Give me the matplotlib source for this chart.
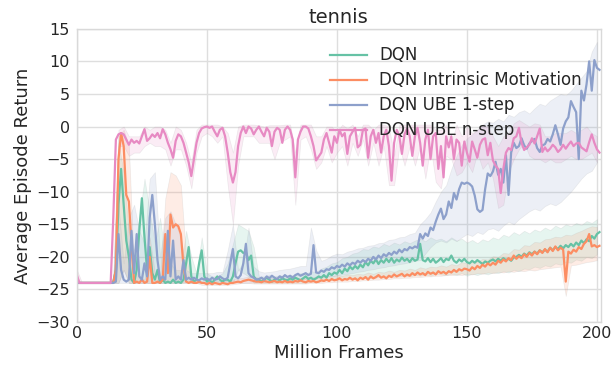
import numpy as np
import matplotlib
matplotlib.use("Agg")
import matplotlib.pyplot as plt

# ---------------- data ----------------
frames = np.arange(0, 202)          # million frames, one value per 1M
band_frames = np.arange(0, 201, 2)  # band sampled every 2M

labels = ["DQN", "DQN Intrinsic Motivation", "DQN UBE 1-step", "DQN UBE n-step"]
colors = ["#66c2a5", "#fc8d62", "#8da0cb", "#e78ac3"]

dqn = [
    -24, -24, -24, -24, -24, -24, -24, -24, -24, -24,
    -24, -24, -24, -24, -23.8, -22, -12, -6.5, -12, -17.5,
    -20, -23.5, -24, -22, -16, -11, -17, -22, -18.5, -22.5,
    -23.5, -22, -24, -23.5, -24, -23.8, -24, -23.5, -24, -23.8,
    -24, -23.5, -21, -18.5, -23, -23.8, -23.5, -21, -19, -23,
    -23.8, -23.5, -24, -23.5, -23, -23.5, -23.8, -23.5, -23.5, -23.8,
    -23, -21, -19.2, -19, -19.4, -19.3, -20.5, -19.8, -23, -23.5,
    -23.5, -23.8, -23.5, -23.2, -23.5, -23.8, -23.5, -23.4, -23.6, -23.3,
    -23.5, -23.6, -23.3, -23.5, -23.2, -23.4, -23.6, -23.3, -23, -23.4,
    -23.2, -23.5, -23.3, -23, -23.2, -22.8, -23.2, -22.5, -22.8, -22.4,
    -22.6, -22.0, -22.5, -21.8, -22.2, -21.5, -21.9, -21.4, -21.8, -21.2,
    -21.6, -20.8, -21.3, -20.6, -21.0, -20.4, -21.1, -20.5, -20.9, -20.3,
    -20.8, -20.2, -20.9, -20.4, -20.7, -20.1, -20.6, -20.3, -20.8, -20.2,
    -20.6, -20.4, -18.0, -20.5, -20.7, -20.2, -20.8, -20.3, -20.9, -20.6,
    -20.2, -20.8, -20.3, -20.5, -19.8, -20.6, -20.9, -20.4, -20.7, -20.3,
    -20.8, -21.0, -20.6, -20.9, -20.5, -20.8, -21.1, -20.7, -20.9, -20.6,
    -20.4, -20.7, -20.3, -20.6, -20.2, -20.5, -20.3, -20.6, -20.1, -20.0,
    -19.7, -20.0, -19.5, -19.8, -19.3, -19.6, -19.2, -19.5, -19.0, -19.3,
    -18.9, -19.2, -18.6, -19.0, -18.5, -18.8, -18.3, -18.7, -18.2, -18.5,
    -18.0, -18.4, -17.8, -18.2, -17.5, -17.9, -17.3, -17.6, -16.8, -17.2,
    -16.5, -16.2,
]

dqn_im = [
    -24, -24, -24, -24, -24, -24, -24, -24, -24, -24,
    -24, -24, -24, -24, -24, -22, -5, -1, -3, -10.5,
    -11.5, -18, -24, -23.8, -24, -23.5, -24, -23.8, -20, -24,
    -24, -23.8, -24, -23.5, -16.5, -22.5, -13.5, -15.5, -15, -15.3,
    -16.5, -21.5, -23.8, -24, -23.8, -24, -24, -23.8, -24, -24,
    -24.2, -24, -24.2, -24, -24.1, -24.2, -24, -24.1, -24.2, -24,
    -24, -23.9, -23.8, -23.9, -23.7, -23.6, -23.5, -23.6, -23.7, -23.8,
    -23.8, -23.9, -23.7, -23.8, -23.9, -23.8, -23.7, -23.9, -23.8, -23.9,
    -23.7, -23.9, -23.8, -23.9, -23.7, -23.8, -23.6, -23.8, -23.9, -23.7,
    -23.8, -23.7, -23.9, -23.8, -23.6, -23.7, -23.5, -23.7, -23.4, -23.6,
    -23.5, -23.3, -23.6, -23.4, -23.5, -23.2, -23.5, -23.3, -23.6, -23.2,
    -23.4, -23.1, -23.5, -23.0, -23.3, -23.1, -22.8, -23.2, -23.0, -23.3,
    -22.9, -23.1, -22.7, -23.0, -22.8, -22.6, -23.0, -22.7, -22.9, -22.5,
    -22.8, -22.4, -22.7, -22.5, -22.8, -22.3, -22.6, -22.4, -22.7, -22.2,
    -22.5, -22.3, -22.6, -22.2, -22.4, -22.0, -22.3, -21.9, -22.1, -21.8,
    -21.9, -22.1, -21.6, -21.9, -21.4, -21.7, -21.2, -21.5, -21.0, -21.3,
    -20.9, -21.2, -20.6, -20.9, -20.4, -20.7, -20.2, -20.5, -19.8, -20.3,
    -19.9, -20.2, -19.6, -20.0, -19.4, -19.8, -19.2, -19.6, -19.0, -19.4,
    -18.8, -19.3, -18.6, -19.1, -18.4, -19.0, -18.6, -18.9, -23.8, -19.2,
    -19.5, -18.9, -19.2, -18.5, -18.8, -18.0, -17.6, -16.5, -18.4, -18.2,
    -18.5, -18.3,
]

ube_1step = [
    -24, -24, -24, -24, -24, -24, -24, -24, -24, -24,
    -24, -24, -24, -24, -24, -23.8, -16.5, -22, -23.5, -23.8,
    -23.5, -16, -22.5, -16.5, -23, -23.5, -21, -23, -14, -10.5,
    -15, -20.5, -23.5, -23, -23.5, -16, -23, -17.5, -23.5, -23,
    -23.5, -20.5, -23.5, -23.2, -23.5, -23.2, -23.5, -23.6, -23.3, -23.5,
    -23.3, -23.6, -23.2, -23.5, -23.4, -23, -23.3, -23.5, -23.2, -21,
    -18.8, -23, -23.3, -22.8, -21, -18, -22.5, -23, -23.2, -23.5,
    -23.4, -23.2, -23.5, -23, -23.3, -22.9, -23.2, -23.4, -23, -23.2,
    -22.8, -23.1, -22.9, -23.2, -22.8, -22.6, -22.9, -22.7, -22.5, -22.8,
    -22.6, -18.2, -22.4, -22.5, -22.1, -22.3, -21.9, -22.0, -21.6, -21.8,
    -21.4, -21.6, -21.2, -21.5, -21.0, -21.3, -20.9, -21.1, -20.6, -20.9,
    -20.5, -20.8, -20.3, -20.6, -20.0, -20.4, -19.8, -20.2, -19.6, -19.9,
    -19.4, -19.7, -19.2, -19.5, -18.9, -19.3, -18.8, -19.0, -18.5, -18.7,
    -18.4, -18.6, -16.5, -17.2, -16.4, -16.8, -15.5, -15.9, -14.6, -13.5,
    -12.6, -14.2, -13.5, -11.5, -12.5, -10.2, -11.2, -9.6, -8.6, -8.8,
    -8.6, -8.8, -9.2, -10.6, -12.7, -13.1, -12.8, -9.6, -7.2, -7.6,
    -6.9, -5.4, -7.4, -6.5, -8.6, -4.4, -10.5, -4.0, -2.5, -3.3,
    -3.0, -1.8, -2.9, -3.4, -2.6, -2.2, -1.9, -3.3, -3.9, -2.9,
    -2.7, -1.9, -2.3, -1.2, 0.2, -1.2, -2.8, -0.3, 0.8, 1.4,
    3.9, 3.0, 2.2, -5.0, 5.5, 4.0, 6.5, 10.0, 5.5, 10.2,
    9.0, 8.7,
]

ube_nstep = [
    -22.8, -24, -24, -24, -24, -24, -24, -24, -24, -24,
    -24, -24, -24, -24, -14, -2, -1.2, -1, -1.2, -2,
    -2.8, -2, -2.5, -2.2, -2.6, -1.5, -0.4, -2.2, -1.8, -1.2,
    -1.6, -1.0, -1.8, -0.4, -1.2, -2.5, -3.5, -4.8, -2.2, -1.2,
    -1.5, -2.5, -4.0, -5.5, -7.6, -5.0, -2.5, -1.0, -0.3, -0.1,
    0, -0.2, 0, -0.8, -1.5, -0.5, -0.2, -1.5, -4, -7,
    -8.6, -7, -3, -1, 0, -1, 0, -0.3, -1.2, -0.5,
    0, -0.8, -1.5, -0.2, -0.8, -3, -0.8, -0.2, -0.5, -2.5,
    -0.5, 0, -0.5, -2, -7.8, -2, -0.8, 0, 0, -0.3,
    -1.5, -3, -5.2, -4.6, -4, -2, -1, -2.5, -4, -1.5,
    -2.5, -0.5, -1.5, -1, -4.2, -1.5, -0.8, -0.2, -3.2, -2.8,
    -0.5, -0.3, -4.8, -1.5, -0.5, -2.5, -1, -4, -1.5, -0.5,
    -3, -8.3, -2.5, -0.5, -1.5, -4.2, -1.2, -0.3, -1.5, -4.5,
    -1.5, -0.2, -2.5, -6, -2, -0.5, -5, -1.5, -1, -6.5,
    -3, -7.8, -1.5, -3.2, -1.5, -5, -2, -2.5, -6, -2.3,
    -4, -5.4, -2.3, -3.5, -4.8, -2.8, -2, -1.8, -4.4, -2.5,
    -5.2, -6, -6.5, -10.2, -6.5, -4, -3.3, -3.6, -1.8, -1.5,
    -0.2, -2.5, -3.6, -3.2, -2.8, -1.8, -2.6, -1.5, -0.3, -3.9,
    -3.2, -3.8, -3.4, -2.8, -3.2, -3.9, -3.5, -2.8, -3.4, -2.8,
    -2.3, -3, -2.6, -2.5, -3.2, -3.5, -3.8, -2.4, -1.2, -2.5,
    -3.5, -4,
]

# confidence bands (lower / upper), every 2M frames
dqn_lo = [
    -24, -24, -24, -24, -24, -24, -24, -24, -24, -22,
    -24, -24, -24, -24, -24, -24, -24, -24, -24, -24,
    -24, -23.8, -24, -24, -24, -24, -24, -24, -24, -24,
    -24, -22, -22.5, -23, -24, -24, -24, -24, -24, -24,
    -24, -24, -24, -24, -24, -23.8, -23.8, -23.8, -23.6, -23.6,
    -23.5, -23.5, -23.4, -23.4, -23.3, -23.3, -23.2, -23.3, -23.1, -23.2,
    -23.0, -23.1, -23.0, -22.9, -23.0, -22.8, -22.9, -22.7, -22.9, -22.6,
    -22.7, -22.8, -22.6, -22.8, -22.5, -22.9, -22.6, -22.8, -22.5, -22.7,
    -22.4, -22.5, -22.2, -22.4, -22.0, -22.2, -21.8, -21.9, -21.5, -21.7,
    -21.3, -21.5, -21.0, -21.2, -20.8, -20.9, -20.4, -20.6, -20.0, -20.2,
    -19.6,
]
dqn_hi = [
    -24, -24, -24, -24, -24, -24, -24, -23.5, -2.5, -7,
    -16, -19, -14, -8, -13, -18, -14, -20, -21, -22,
    -22, -16, -20, -22.5, -17, -22.5, -23, -23, -22.5, -21,
    -18, -15, -15.5, -16, -18.5, -23, -23, -22.8, -23, -22.8,
    -23, -22.8, -22.8, -22.5, -22.6, -22.2, -22.3, -21.8, -21.5, -21.0,
    -20.8, -20.2, -20.0, -19.5, -19.3, -18.8, -18.9, -18.4, -18.6, -18.0,
    -18.3, -17.8, -18.1, -17.6, -17.9, -17.5, -17.2, -17.6, -17.0, -17.4,
    -17.2, -17.6, -17.0, -17.5, -17.2, -17.8, -17.4, -17.9, -17.3, -17.6,
    -17.0, -17.3, -16.6, -16.9, -16.2, -16.6, -16.0, -16.4, -15.8, -16.1,
    -15.5, -15.9, -15.2, -15.6, -15.0, -15.3, -14.8, -15.1, -14.5, -14.8,
    -14.2,
]
dqn_im_lo = [
    -24, -24, -24, -24, -24, -24, -24, -24, -24, -22,
    -24, -24, -24, -24, -24, -24, -24, -24, -24, -24,
    -24, -24, -24, -24, -24.3, -24.3, -24.3, -24.3, -24.3, -24.3,
    -24.2, -24.1, -24, -24, -24.1, -24.1, -24.1, -24.1, -24.1, -24.1,
    -24.1, -24.1, -24.1, -24.1, -24.1, -24, -24, -24, -23.9, -23.9,
    -23.8, -23.8, -23.8, -23.7, -23.7, -23.6, -23.6, -23.5, -23.5, -23.4,
    -23.4, -23.3, -23.3, -23.2, -23.2, -23.1, -23.1, -23.0, -23.0, -22.9,
    -22.9, -22.8, -22.8, -22.7, -22.8, -22.6, -22.7, -22.5, -22.6, -22.4,
    -22.5, -22.3, -22.4, -22.2, -22.3, -22.1, -22.2, -22.0, -22.1, -21.9,
    -21.8, -21.7, -21.6, -21.5, -26, -21.3, -21.2, -21.0, -20.8, -20.7,
    -20.5,
]
dqn_im_hi = [
    -24, -24, -24, -24, -24, -24, -24, -24, -1.5, -0.5,
    -3, -22, -23, -23.5, -17, -22.5, -23, -11, -7, -7.5,
    -9, -20, -23.5, -23.5, -23.8, -23.8, -23.6, -23.6, -23.7, -23.6,
    -23.5, -23.3, -23.2, -23.0, -23.0, -23.2, -23.3, -23.3, -23.2, -23.3,
    -23.3, -23.3, -23.2, -23.3, -23.1, -23.2, -23.0, -23.0, -22.9, -23.0,
    -22.8, -22.9, -22.7, -22.8, -22.6, -22.7, -22.4, -22.6, -22.3, -22.4,
    -22.1, -22.3, -22.0, -22.1, -21.8, -22.0, -21.6, -21.8, -21.5, -21.6,
    -21.3, -21.5, -21.1, -21.3, -20.8, -21.0, -20.6, -20.7, -20.3, -20.4,
    -19.9, -20.0, -19.4, -19.5, -18.8, -18.9, -18.2, -18.3, -17.7, -17.8,
    -17.3, -17.2, -16.9, -17.0, -16.6, -16.7, -16.3, -16.0, -15.6, -15.3,
    -15.4,
]
ube_1step_lo = [
    -24, -24, -24, -24, -24, -24, -24, -24, -24, -24,
    -24, -24, -24, -24, -24, -24, -24, -24, -24, -24,
    -24, -24, -24, -24, -24, -24, -24, -24, -24, -24,
    -23.8, -24, -24, -24, -23.9, -23.8, -23.9, -23.8, -23.8, -23.7,
    -23.6, -23.6, -23.5, -23.5, -23.4, -23.4, -23.3, -23.2, -23.0, -23.0,
    -22.8, -22.7, -22.6, -22.5, -22.3, -22.2, -22.0, -21.9, -21.7, -21.6,
    -21.4, -21.3, -21.1, -21.0, -20.8, -20.6, -20.5, -19.5, -18.5, -17.8,
    -17.5, -17.8, -17.2, -17.6, -17.0, -16.5, -16.8, -16.2, -16.5, -15.8,
    -15.6, -16.0, -15.2, -14.6, -15.0, -14.2, -13.6, -13.0, -12.6, -12.9,
    -12.2, -11.8, -12.1, -11.6, -10.8, -10.0, -9.0, -8.0, -7.2, -6.8,
    -5.5,
]
ube_1step_hi = [
    -24, -24, -24, -24, -24, -24, -24, -24, -12, -21,
    -14, -12, -16, -18, -8, -7, -20, -14, -13, -15,
    -17, -22, -22.5, -22.5, -22.5, -22.5, -22.5, -22.3, -22.3, -19,
    -15, -22, -21, -15.5, -21.5, -22.2, -22.4, -22.3, -22.2, -22.0,
    -21.9, -21.8, -21.6, -21.4, -21.4, -15.5, -19, -20.6, -20.3, -19.8,
    -19.5, -19.6, -19.2, -19.0, -18.7, -18.6, -18.3, -18.2, -17.9, -17.8,
    -17.4, -17.3, -17.0, -16.9, -16.5, -16.3, -15.0, -14.2, -13.2, -11.5,
    -10.0, -9.0, -6.5, -4.5, -2.8, -1.8, -1.2, -0.5, 0.3, 0.8,
    0.6, 1.2, 0.8, 1.8, 1.5, 2.2, 2.5, 2.0, 2.8, 3.5,
    3.2, 4.0, 4.5, 5.0, 4.8, 5.5, 6.5, 7.5, 8.5, 11.5,
    13,
]
ube_nstep_lo = [
    -24, -24, -24, -24, -24, -24, -24, -24, -3, -3,
    -4.5, -4, -4, -3, -2.5, -3, -3, -3.5, -6, -3.5,
    -3.5, -6, -9.5, -4, -1.5, -1, -1.5, -2.5, -1.5, -9,
    -15, -6, -1.5, -1.5, -1.5, -2.5, -2.5, -2.5, -5, -2.5,
    -2, -1.5, -12, -2, -1.5, -3.5, -6.5, -5.5, -3, -5.5,
    -4, -3, -6, -2.5, -4.5, -2, -6, -2.5, -6, -3,
    -9, -9, -3, -6, -3, -6, -3, -8, -3, -8.5,
    -9.5, -4.5, -5, -7.5, -7, -5.5, -7, -4, -6.5, -5.5,
    -8, -12.5, -12, -7, -5, -3.5, -2.5, -4.5, -5, -5,
    -5.5, -5, -5.5, -5.5, -5, -4.5, -5, -5, -4.5, -4,
    -5.5,
]
ube_nstep_hi = [
    -22, -24, -24, -24, -24, -24, -24, -23.5, -0.5, 0,
    -1.5, -1.5, -1.5, 0, -0.5, 0, 0, -0.5, -2.5, 0,
    -0.5, -2.5, -5.5, -0.5, 0.3, 0.3, 0.3, 0.3, 0, -1,
    -4, 0, 0.3, 0.3, 0.3, 0.2, 0, 0.2, 0.2, 0.2,
    0.3, 0.3, -4, 0.3, 0.3, 0.3, -1.5, -1.5, 0, 0,
    -1, 0.3, -0.3, 0.3, -1.5, 0.3, 0.3, -0.5, 0.3, 0.3,
    0, -4.5, 0.3, 0.3, 0.3, 0.3, 0.3, 0.3, 0.3, -0.5,
    -0.5, 0.3, -2.5, 0.3, -1.5, 0, -1, -0.5, 0.3, 0,
    -1.5, -3, -1.5, -1, 0.5, 1, 0.5, 0, 0.5, 0.3,
    -1.5, -1.5, -1, -1, -1, -0.5, -1, -0.5, 0, -1,
    -1.5,
]

means = [dqn, dqn_im, ube_1step, ube_nstep]
lows = [dqn_lo, dqn_im_lo, ube_1step_lo, ube_nstep_lo]
highs = [dqn_hi, dqn_im_hi, ube_1step_hi, ube_nstep_hi]

x_ticks = [0, 50, 100, 150, 200]
y_ticks = [-30, -25, -20, -15, -10, -5, 0, 5, 10, 15]

# ---------------- plot ----------------
plt.rcParams["font.family"] = ["DejaVu Sans"]
plt.rcParams["axes.unicode_minus"] = True

fig = plt.figure(figsize=(6.15, 3.74), dpi=100)
ax = fig.add_axes([0.125, 0.139, 0.852, 0.784])
ax.set_facecolor("white")

for lo, hi, c in zip(lows, highs, colors):
    ax.fill_between(band_frames, lo, hi, facecolor=c, alpha=0.16,
                    edgecolor="0.6", linewidth=0.5)
for m, c, lab in zip(means, colors, labels):
    ax.plot(frames, m, color=c, lw=1.6, label=lab)

ax.set_xlim(0, 201.5)
ax.set_ylim(-30, 15)
ax.set_xticks(x_ticks)
ax.set_yticks(y_ticks)
ax.grid(True, color="0.87", lw=1.0)
ax.set_axisbelow(True)
for s in ax.spines.values():
    s.set_color("0.85")
    s.set_linewidth(1.0)
ax.tick_params(axis="both", length=0, labelsize=11.5, colors="0.15")
ax.tick_params(axis="x", pad=3)
ax.tick_params(axis="y", pad=5)

ax.set_title("tennis", fontsize=14, color="0.15", pad=4)
ax.set_xlabel("Million Frames", fontsize=13, color="0.15", labelpad=2)
ax.set_ylabel("Average Episode Return", fontsize=13, color="0.15", labelpad=3)

leg = ax.legend(loc="upper left", bbox_to_anchor=(0.483, 0.94), frameon=False,
                fontsize=12, handlelength=2.2, handletextpad=0.75,
                labelspacing=0.42, borderpad=0, borderaxespad=0)
for t in leg.get_texts():
    t.set_color("0.15")

fig.savefig("out.png", dpi=100)
